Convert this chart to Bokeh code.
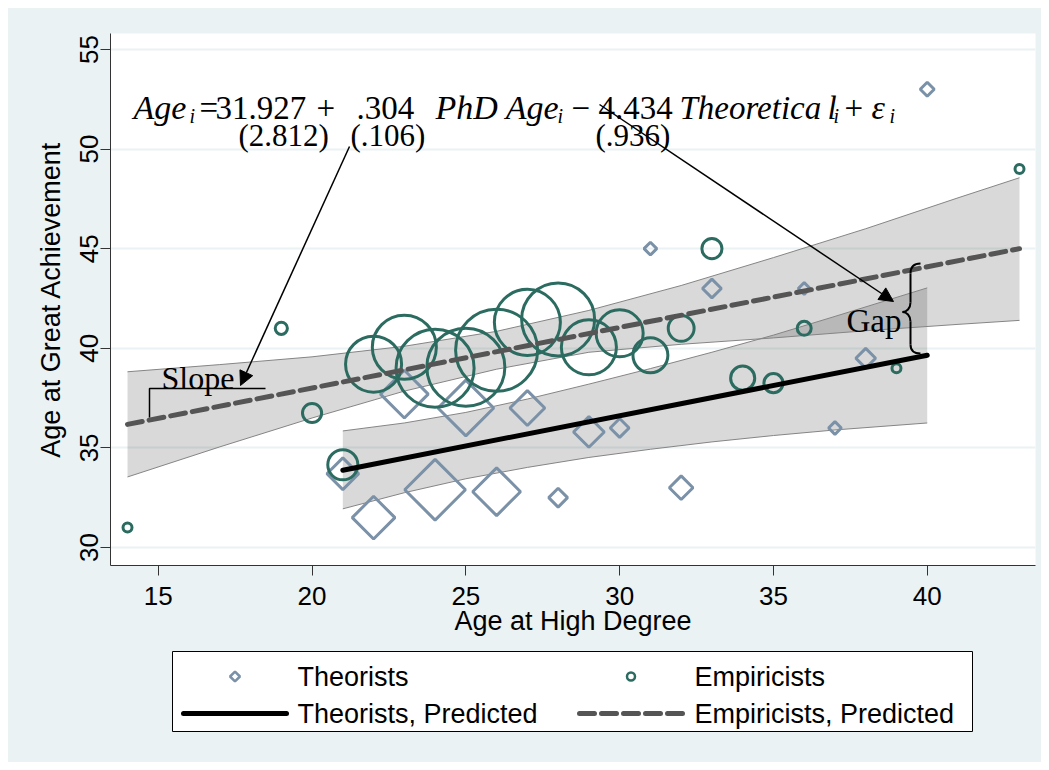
import numpy as np
from bokeh.plotting import figure
from bokeh.layouts import column
from bokeh.models import Range1d, FixedTicker, Arrow, NormalHead, ColumnDataSource
from bokeh.core.properties import value
from bokeh.embed import file_html
from bokeh.resources import INLINE

# ---------------- data ----------------
x_ticks = [15, 20, 25, 30, 35, 40]
y_ticks = [30, 35, 40, 45, 50, 55]

theorist_x = [21, 22, 23, 24, 25, 26, 27, 28, 29, 30, 31, 32, 33, 36, 37, 38, 40]
theorist_y = [33.7, 31.5, 37.7, 32.9, 37.0, 32.8, 37.0, 32.5, 35.8, 36.0, 45.0, 33.0, 43.0, 43.0, 36.0, 39.5, 53.0]
theorist_weight = [9.0, 15.3, 18.8, 29.3, 25.0, 18.8, 10.6, 3.7, 8.5, 3.7, 2.0, 5.4, 3.7, 1.8, 2.0, 4.0, 2.3]

empiricist_x = [14, 19, 20, 21, 22, 23, 24, 25, 26, 27, 28, 29, 30, 31, 32, 33, 34, 35, 36, 39, 43]
empiricist_y = [31.0, 41.0, 36.75, 34.15, 39.2, 40.05, 39.0, 39.05, 39.9, 41.3, 41.45, 40.05, 40.75, 39.65,
                41.0, 45.0, 38.5, 38.25, 41.0, 39.0, 49.0]
empiricist_weight = [1.0, 1.6, 3.4, 7.6, 24.2, 31.2, 45.6, 45.6, 50.2, 33.1, 40.1, 23.4, 17.4, 10.0,
                     5.8, 3.7, 5.1, 3.4, 2.0, 1.0, 1.0]

fit_theorist_x = [21, 40]
fit_theorist_y = [33.88, 39.65]
fit_empiricist_x = [14, 43]
fit_empiricist_y = [36.18, 45.00]

ci_theorist_x = [21, 23, 25, 27, 29, 31, 33, 35, 37, 40]
ci_theorist_lo = [31.94, 32.75, 33.45, 34.02, 34.52, 34.93, 35.30, 35.62, 35.90, 36.25]
ci_theorist_hi = [35.85, 36.25, 36.78, 37.45, 38.20, 38.98, 39.80, 40.66, 41.60, 43.03]

ci_empiricist_x = [14, 17, 20, 23, 26, 29, 32, 35, 38, 41, 43]
ci_empiricist_lo = [33.54, 35.05, 36.50, 37.85, 38.95, 39.80, 40.20, 40.52, 40.88, 41.20, 41.40]
ci_empiricist_hi = [38.82, 39.18, 39.57, 40.10, 40.85, 41.90, 43.15, 44.55, 46.00, 47.55, 48.56]

legend_labels = ["Theorists", "Empiricists", "Theorists, Predicted", "Empiricists, Predicted"]

# ---------------- styling ----------------
SANS = "Liberation Sans"
SERIF = "Liberation Serif"
BG = "#eaf2f3"
T_COLOR = "#7a91a8"
E_COLOR = "#2b6b60"
DASH_COLOR = "#555555"
BAND_EDGE = "#858585"
DASH = "15 7"

X0, X1 = 13.447, 43.52
Y0, Y1 = 29.096, 55.80
PAGE = 8
FX0, FX1, FY0, FY1 = 110, 1035, 33, 565  # frame in page pixels
MAIN_BOTTOM = 650                        # page y where the main figure ends
FIG_RIGHT, FIG_BOTTOM = 1041, 762


def dx(px):
    return X0 + (px - FX0) * (X1 - X0) / (FX1 - FX0)


def dy(py):
    return Y1 - (py - FY0) * (Y1 - Y0) / (FY1 - FY0)


p = figure(frame_width=FX1 - FX0, frame_height=FY1 - FY0, x_range=Range1d(X0, X1), y_range=Range1d(Y0, Y1),
           output_backend="svg", toolbar_location=None,
           min_border_left=FX0 - PAGE, min_border_right=FIG_RIGHT - FX1,
           min_border_top=FY0 - PAGE, min_border_bottom=MAIN_BOTTOM - FY1,
           background_fill_color="white", border_fill_color=BG, outline_line_color=None)

# axes
for ax in (p.xaxis[0], p.yaxis[0]):
    ax.major_label_text_font = SANS
    ax.major_label_text_font_size = "26px"
    ax.major_label_text_color = "black"
    ax.axis_label_text_font = SANS
    ax.axis_label_text_font_size = "27px"
    ax.axis_label_text_font_style = "normal"
    ax.axis_label_text_color = "black"
    ax.axis_line_color = "#333333"
    ax.axis_line_width = 1
    ax.major_tick_line_color = "#333333"
    ax.major_tick_out = 10
    ax.major_tick_in = 0
    ax.minor_tick_out = 0
    ax.minor_tick_in = 0

p.xaxis.ticker = FixedTicker(ticks=x_ticks)
p.yaxis.ticker = FixedTicker(ticks=y_ticks)
p.xaxis.axis_label = "Age at High Degree"
p.yaxis.axis_label = "Age at Great Achievement"
p.xaxis.major_label_standoff = 11
p.xaxis.axis_label_standoff = -2
p.yaxis.major_label_orientation = "vertical"
p.yaxis.major_label_standoff = 2
p.yaxis.axis_label_standoff = 12

p.xgrid.visible = False
p.ygrid.ticker = FixedTicker(ticks=y_ticks)
p.ygrid.grid_line_color = BG
p.ygrid.grid_line_width = 2

# confidence bands
p.varea(x=ci_empiricist_x, y1=ci_empiricist_lo, y2=ci_empiricist_hi, fill_color="black", fill_alpha=0.15)
p.varea(x=ci_theorist_x, y1=ci_theorist_lo, y2=ci_theorist_hi, fill_color="black", fill_alpha=0.15)
for xs, ys in ((ci_empiricist_x, ci_empiricist_lo), (ci_empiricist_x, ci_empiricist_hi),
               (ci_theorist_x, ci_theorist_lo), (ci_theorist_x, ci_theorist_hi)):
    p.line(xs, ys, line_color=BAND_EDGE, line_width=1)

# scatter (marker size from weights)
t_size = [12 * np.sqrt(w) / np.sqrt(2) - 3 for w in theorist_weight]
e_size = [12 * np.sqrt(w) - 3 for w in empiricist_weight]
src_t = ColumnDataSource(dict(x=theorist_x, y=theorist_y, size=t_size))
src_e = ColumnDataSource(dict(x=empiricist_x, y=empiricist_y, size=e_size))
p.scatter("x", "y", source=src_t, marker="square", angle=np.pi / 4, size="size",
          fill_color=None, line_color=T_COLOR, line_width=3)
p.scatter("x", "y", source=src_e, marker="circle", size="size",
          fill_color=None, line_color=E_COLOR, line_width=3)

# fitted lines
p.line(fit_theorist_x, fit_theorist_y, line_color="black", line_width=5, line_cap="round")
p.line(fit_empiricist_x, fit_empiricist_y, line_color=DASH_COLOR, line_width=5,
       line_dash=DASH, line_cap="round")

# ---------------- annotations ----------------
def txt(items, size, style="normal"):
    p.text(x=[dx(a) for a, b, c in items], y=[dy(b) for a, b, c in items], text=[c for a, b, c in items],
           text_font=value(SERIF), text_font_size=size, text_font_style=style,
           text_align="left", text_baseline="alphabetic", text_color="black")

txt([(133, 107, "Age"), (435, 107, "PhD Age"), (871, 107, "\u03b5")], "34px", "italic")
txt([(679, 107, "Theoretica"), (827, 107, "l")], "33px", "italic")
txt([(189, 115, "i"), (557, 115, "i"), (833, 115, "i"), (889, 115, "i")], "20px", "italic")
txt([(199, 107, "="), (215, 107, "31.927"), (316, 107, "+"), (356, 107, ".304"),
     (571, 107, "\u2212"), (598, 107, "4.434"), (844, 107, "+")], "33px")
txt([(238, 135, "(2.812)"), (350, 135, "(.106)"), (595, 135, "(.936)")], "31px")
txt([(161, 377, "Slope")], "32px")
txt([(846, 320, "Gap")], "33px")

# arrows
for (x0, y0, x1, y1) in ((349, 146, 240, 385), (599, 104, 893, 301)):
    p.add_layout(Arrow(end=NormalHead(size=14, fill_color="black", line_color="black"),
                       x_start=dx(x0), y_start=dy(y0), x_end=dx(x1), y_end=dy(y1),
                       line_color="black", line_width=1.5))

# slope bracket
p.line([dx(149), dx(149), dx(265)], [dy(417), dy(388), dy(388)], line_color="black", line_width=1.5)

# gap brace
p.bezier(x0=[dx(920), dx(910), dx(902), dx(910)], y0=[dy(263), dy(302), dy(311.5), dy(344)],
         x1=[dx(910), dx(902), dx(910), dx(920)], y1=[dy(273), dy(311.5), dy(321), dy(353)],
         cx0=[dx(913), dx(910), dx(906), dx(910)], cy0=[dy(263), dy(308), dy(311.5), dy(350)],
         cx1=[dx(910), dx(906), dx(910), dx(913)], cy1=[dy(267), dy(311.5), dy(315), dy(353)],
         line_color="black", line_width=2)
p.segment(x0=[dx(910), dx(910)], y0=[dy(273), dy(321)], x1=[dx(910), dx(910)], y1=[dy(302), dy(344)],
          line_color="black", line_width=2)

# ---------------- legend strip (separate figure below the plot, page-pixel coordinates) ----------------
leg = figure(frame_width=FX1 - FX0, frame_height=FIG_BOTTOM - MAIN_BOTTOM,
             x_range=Range1d(FX0, FX1), y_range=Range1d(FIG_BOTTOM, MAIN_BOTTOM),
             output_backend="svg", toolbar_location=None, x_axis_type=None, y_axis_type=None,
             min_border_left=FX0 - PAGE, min_border_right=FIG_RIGHT - FX1,
             min_border_top=0, min_border_bottom=0,
             background_fill_color=BG, border_fill_color=BG, outline_line_color=None)
leg.xgrid.visible = False
leg.ygrid.visible = False

ROW1, ROW2 = 676, 713
leg.quad(left=[172], right=[972], top=[651], bottom=[731], fill_color="white", line_color="black", line_width=1)
leg.scatter(x=[234.5], y=[ROW1], marker="square", angle=np.pi / 4, size=7, fill_color=None,
            line_color=T_COLOR, line_width=2.5)
leg.scatter(x=[630.5], y=[ROW1], marker="circle", size=8, fill_color=None, line_color=E_COLOR, line_width=2.5)
leg.line(x=[183, 286], y=[ROW2, ROW2], line_color="black", line_width=5, line_cap="round")
leg.line(x=[579, 682], y=[ROW2, ROW2], line_color=DASH_COLOR, line_width=5, line_dash=DASH, line_cap="round")
leg.text(x=[297, 694, 297, 694], y=[ROW1, ROW1, ROW2, ROW2], text=legend_labels,
         text_font=value(SANS), text_font_size="27px", text_align="left", text_baseline="middle",
         text_color="black")

layout = column(p, leg, spacing=0, margin=(PAGE, 0, 0, PAGE))
layout.styles = {"background-color": BG}
open("out.html", "w").write(file_html(layout, INLINE))
